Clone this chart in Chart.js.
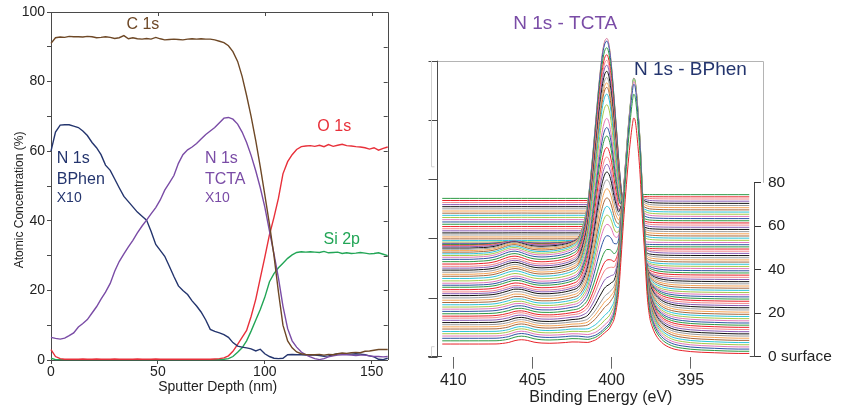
<!DOCTYPE html>
<html>
<head>
<meta charset="utf-8">
<script src="https://cdn.jsdelivr.net/npm/chart.js@4.4.1/dist/chart.umd.min.js"></script>
<style>
  html, body { margin: 0; padding: 0; background: #fff; }
  #wrap { position: relative; width: 851px; height: 410px; }
  #depth { position: absolute; left: 0; top: 0; }
  #xps { position: absolute; left: 420px; top: 0; }
</style>
</head>
<body>
<div id="wrap">
  <canvas id="depth" width="420" height="410"></canvas>
  <canvas id="xps" width="431" height="410"></canvas>
</div>
<script>
// depth profile (left panel) -------------------------------------------
const depth = [0,2.1,4.3,6.4,8.5,10.6,12.8,14.9,17.0,19.2,
  21.3,23.4,25.5,27.7,29.8,31.9,34.1,36.2,38.3,40.4,
  42.6,44.7,46.8,49.0,51.1,53.2,55.3,57.5,59.6,61.7,
  63.9,66.0,68.1,70.2,72.4,74.5,76.6,78.8,80.9,83.0,
  85.1,87.3,89.4,91.5,93.6,95.8,97.9,100.0,102.2,104.3,
  106.4,108.5,110.7,112.8,114.9,117.1,119.2,121.3,123.4,125.6,
  127.7,129.8,132.0,134.1,136.2,138.3,140.5,142.6,144.7,146.9,
  149.0,151.1,153.2,155.4,157.5];

const c1s = [91.0,92.6,92.8,92.7,93.0,92.9,92.9,92.8,93.0,92.9,
  92.6,92.7,92.9,92.7,92.4,92.6,93.2,92.3,92.6,92.3,
  92.2,92.4,92.2,92.7,92.3,92.0,92.1,92.2,92.1,92.0,
  92.2,92.3,92.2,92.3,92.2,92.2,92.0,91.6,91.2,90.3,
  88.6,85.8,81.5,76.0,70.0,63.0,55.5,47.5,39.0,30.0,
  19.5,10.0,5.5,3.5,2.3,1.8,1.6,1.5,1.5,1.6,
  1.4,1.6,1.5,1.8,2.0,1.9,2.1,2.2,2.1,2.5,
  2.6,2.8,3.0,3.0,3.0];

const o1s = [3.0,1.0,0.4,0.2,0.2,0.2,0.2,0.3,0.2,0.2,
  0.3,0.2,0.2,0.2,0.3,0.2,0.2,0.2,0.2,0.3,
  0.2,0.2,0.2,0.3,0.2,0.2,0.2,0.2,0.2,0.2,
  0.2,0.2,0.2,0.2,0.2,0.2,0.3,0.4,0.6,1.2,
  2.5,4.5,6.5,8.5,12.5,17.5,23.5,29.5,36.0,41.0,
  46.5,53.5,57.0,59.0,60.5,61.3,61.5,61.6,61.4,61.7,
  61.3,61.9,61.4,61.7,62.0,61.6,61.5,61.3,61.2,61.0,
  60.6,61.0,60.3,60.8,61.2];

const si2p = [0.5,0.1,0.1,0.1,0.1,0.1,0.1,0.1,0.1,0.1,
  0.1,0.1,0.1,0.1,0.1,0.1,0.1,0.1,0.1,0.1,
  0.1,0.1,0.1,0.1,0.1,0.1,0.1,0.1,0.1,0.1,
  0.1,0.1,0.1,0.1,0.1,0.1,0.1,0.1,0.2,0.4,
  1.0,2.2,3.5,5.5,8.3,11.5,14.5,18.0,22.5,24.8,
  26.5,27.8,29.2,30.2,30.9,31.1,31.0,31.1,31.0,30.9,
  31.2,30.8,30.9,31.0,30.6,30.8,30.6,30.7,30.9,30.7,
  30.5,30.6,30.8,30.4,30.0];

// N 1s traces are plotted x10
const nBPhen = [60.0,65.5,67.5,67.6,67.6,67.2,66.8,65.8,64.5,62.5,
  61.0,59.0,56.0,54.5,52.0,49.5,47.0,45.5,44.0,42.5,
  41.3,40.2,37.0,33.2,31.5,29.8,27.0,24.0,21.3,20.0,
  18.8,17.0,15.5,13.8,11.5,8.8,8.2,7.8,7.3,6.5,
  5.0,4.0,3.7,3.5,3.2,2.6,3.1,1.8,1.0,0.5,
  0.4,0.5,1.5,1.6,1.5,1.5,1.4,1.4,1.4,1.3,
  1.1,1.2,1.5,1.8,1.8,1.7,1.7,1.8,1.7,1.5,
  1.2,0.9,0.2,0.1,0.5];

const nTCTA = [6.5,6.2,6.0,6.3,7.0,7.8,9.5,10.5,11.6,13.5,
  15.3,17.5,19.5,22.0,25.5,28.3,30.5,32.5,34.4,36.5,
  38.5,40.2,42.0,43.8,46.0,48.8,50.8,53.0,56.5,59.0,
  60.4,61.2,62.2,63.5,64.8,65.8,66.8,68.2,69.5,69.7,
  69.2,67.8,65.5,62.5,58.8,54.3,49.5,44.0,37.0,30.5,
  23.5,15.5,9.0,5.5,3.7,2.3,1.5,0.9,0.4,0.1,
  0.4,0.9,1.2,1.4,1.5,1.5,1.4,1.3,1.4,1.4,
  1.2,1.0,1.0,0.9,1.0];

// N 1s spectra (right panel) --------------------------------------------
const energy = [410.7,410.2,409.6,409.0,408.4,407.8,407.3,406.9,406.5,406.1,
  405.7,405.3,404.9,404.4,403.9,403.4,402.9,402.5,402.1,401.8,
  401.5,401.2,401.0,400.8,400.6,400.45,400.3,400.15,400.0,399.85,
  399.7,399.55,399.4,399.25,399.1,398.95,398.8,398.7,398.6,398.5,
  398.35,398.2,398.05,397.9,397.75,397.6,397.4,397.2,397.0,396.7,
  396.4,396.0,395.5,395.0,394.3,393.5,392.7,392.0,391.3];

// TCTA component, peak at 400.3 eV, shake-up near 406 eV
const shapeTCTA = [0,0,0,0,0.002,0.005,0.012,0.022,0.032,0.035,
  0.028,0.018,0.012,0.010,0.012,0.016,0.024,0.035,0.06,0.125,
  0.24,0.45,0.615,0.78,0.915,0.978,1.0,0.97,0.88,0.75,
  0.61,0.46,0.32,0.22,0.135,0.08,0.044,0.028,0.018,0.01,
  0.005,0.002,0,0,0,0,0,0,0,0,
  0,0,0,0,0,0,0,0,0];

// BPhen component, peak at 398.6 eV
const shapeBPhen = [0,0,0,0,0,0,0,0.002,0.006,0.014,
  0.018,0.015,0.008,0.004,0.003,0.004,0.006,0.008,0.007,0.004,
  0,0,0,0.004,0.01,0.018,0.025,0.035,0.055,0.08,
  0.13,0.21,0.36,0.52,0.66,0.79,0.9,0.96,1.0,0.99,
  0.9,0.77,0.58,0.42,0.25,0.16,0.11,0.08,0.06,0.04,
  0.028,0.018,0.012,0.008,0.005,0.003,0.001,0,0];

// inelastic background steps under each peak
const stepTCTA = [1,1,1,1,1,1,1,1,1,1,
  1,1,1,1,1,1,1,1,1,0.99,
  0.97,0.92,0.86,0.78,0.68,0.6,0.5,0.4,0.32,0.24,
  0.17,0.11,0.07,0.04,0.02,0.01,0,0,0,0,
  0,0,0,0,0,0,0,0,0,0,
  0,0,0,0,0,0,0,0,0];

const stepBPhen = [1,1,1,1,1,1,1,1,1,1,
  1,1,1,1,1,1,1,1,1,1,
  1,1,1,1,1,1,1,1,1,1,
  1,1,0.97,0.92,0.85,0.76,0.65,0.58,0.5,0.42,
  0.31,0.21,0.13,0.07,0.04,0.02,0.01,0,0,0,
  0,0,0,0,0,0,0,0,0];

const baseline = [-0.3,-0.3,-0.3,-0.3,-0.3,-0.3,-0.3,-0.3,-0.3,-0.3,
  -0.3,-0.3,-0.3,-0.3,-0.3,-0.3,-0.3,-0.3,-0.3,-0.3,
  -0.3,-0.3,-0.2,-0.1,0.0,0.1,0.2,0.3,0.4,0.5,
  0.6,0.7,0.8,0.9,1.0,1.1,1.2,1.25,1.3,1.35,
  1.4,1.45,1.5,1.5,1.5,1.5,1.5,1.5,1.5,1.5,
  1.5,1.5,1.5,1.5,1.5,1.5,1.5,1.5,1.5];

const spectraCount = 74;      // one spectrum per sputter step, offset by 1 each
const ampBPhen = 1.76;        // peak height per % (x10 trace)
const ampTCTA = 1.58;
const tctaFloor = 4.5;        // TCTA trace sits ~4.5 above zero at the surface
const stepGain = 0.092;

const axisTicksRight = [0, 20, 40, 60, 80];
const intensityTicks = [0, 27.2, 54.4, 81.6, 108.8, 136.1];

const palette = ['#e8232a','#2e9a45','#2f55a4','#e376b8','#a6c94a','#2fc4d8',
  '#a8673d','#f6a454','#9b9b9b','#111111','#8a5bb5','#f4858a'];

const FONT = '"Liberation Sans", Arial, sans-serif';
const brown = '#6e4826', red = '#e8303a', green = '#22a556', navy = '#24356e', purple = '#7a4ca6';
const axisColor = '#4a4a4a';

// left panel ---------------------------------------------------------------
function series(arr) { return depth.map((d, i) => ({x: d, y: arr[i]})); }

const depthLabels = [
  {text: 'C 1s', x: 43, y: 96.3, color: brown, size: 16, align: 'center'},
  {text: 'O 1s', x: 132.5, y: 67.0, color: red, size: 16, align: 'center'},
  {text: 'Si 2p', x: 136, y: 34.5, color: green, size: 16, align: 'center'},
  {text: 'N 1s', x: 2.7, y: 58.0, color: navy, size: 16, align: 'left'},
  {text: 'BPhen', x: 2.7, y: 51.7, color: navy, size: 16, align: 'left'},
  {text: 'X10', x: 2.7, y: 46.5, color: navy, size: 14, align: 'left'},
  {text: 'N 1s', x: 72, y: 58.0, color: purple, size: 16, align: 'left'},
  {text: 'TCTA', x: 72, y: 51.7, color: purple, size: 16, align: 'left'},
  {text: 'X10', x: 72, y: 46.5, color: purple, size: 14, align: 'left'}
];

const depthDecor = {
  id: 'depthDecor',
  afterDraw(chart) {
    const {ctx, chartArea: a, scales: {x, y}} = chart;
    ctx.save();
    ctx.strokeStyle = axisColor;
    ctx.lineWidth = 1;
    ctx.beginPath();
    ctx.moveTo(a.left, Math.round(a.top) + 0.5);
    ctx.lineTo(Math.round(a.right) + 0.5, Math.round(a.top) + 0.5);
    ctx.lineTo(Math.round(a.right) + 0.5, a.bottom);
    for (let v = 10; v < 100; v += 10) {
      const py = Math.round(y.getPixelForValue(v)) + 0.5;
      ctx.moveTo(a.right, py); ctx.lineTo(a.right - 4, py);
    }
    for (const v of [50, 100, 150]) {
      const px = Math.round(x.getPixelForValue(v)) + 0.5;
      ctx.moveTo(px, a.top); ctx.lineTo(px, a.top + 4);
    }
    ctx.stroke();

    ctx.textBaseline = 'middle';
    for (const l of depthLabels) {
      ctx.font = l.size + 'px ' + FONT;
      ctx.fillStyle = l.color;
      ctx.textAlign = l.align;
      ctx.fillText(l.text, x.getPixelForValue(l.x), y.getPixelForValue(l.y));
    }

    ctx.fillStyle = '#222';
    ctx.font = '14px ' + FONT;
    ctx.textAlign = 'center';
    ctx.fillText('Sputter Depth (nm)', x.getPixelForValue(78), a.bottom + 27);
    ctx.font = '12px ' + FONT;
    ctx.translate(20, y.getPixelForValue(46));
    ctx.rotate(-Math.PI / 2);
    ctx.fillText('Atomic Concentration (%)', 0, 0);
    ctx.restore();
  }
};

new Chart(document.getElementById('depth'), {
  type: 'line',
  data: {
    datasets: [
      {label: 'C 1s', data: series(c1s), borderColor: brown},
      {label: 'N 1s TCTA', data: series(nTCTA), borderColor: purple},
      {label: 'N 1s BPhen', data: series(nBPhen), borderColor: navy},
      {label: 'O 1s', data: series(o1s), borderColor: red},
      {label: 'Si 2p', data: series(si2p), borderColor: green}
    ]
  },
  options: {
    responsive: false,
    animation: false,
    devicePixelRatio: 1,
    events: [],
    layout: {padding: {left: 0, top: 12, right: 32.3, bottom: 0}},
    elements: {
      line: {borderWidth: 1.4, tension: 0, fill: false},
      point: {radius: 0}
    },
    datasets: {line: {clip: 3}},
    plugins: {legend: {display: false}, tooltip: {enabled: false}},
    scales: {
      x: {
        type: 'linear', min: 0, max: 157.5,
        afterFit(s) { s.height = 50; },
        border: {color: axisColor},
        grid: {drawOnChartArea: false, color: axisColor, tickLength: 4},
        ticks: {stepSize: 50, includeBounds: false, maxRotation: 0, padding: 0,
          font: {family: FONT, size: 14}, color: '#222'}
      },
      y: {
        min: 0, max: 100,
        afterFit(s) { s.width = 51; },
        border: {color: axisColor},
        grid: {drawOnChartArea: false, color: axisColor, tickLength: 4},
        ticks: {stepSize: 10, padding: 2, font: {family: FONT, size: 14}, color: '#222',
          callback: v => (v % 20 === 0 ? v : '')}
      }
    }
  },
  plugins: [depthDecor]
});

// right panel --------------------------------------------------------------
function spectrum(k) {
  const b = nBPhen[k];
  const t = Math.max(nTCTA[k] - tctaFloor, 0);
  return energy.map((e, j) => ({
    x: e,
    y: k + baseline[j]
      + stepGain * (b * stepBPhen[j] + nTCTA[k] * stepTCTA[j])
      + ampBPhen * b * shapeBPhen[j]
      + ampTCTA * t * shapeTCTA[j]
  }));
}

const spectra = [];
for (let k = 0; k < spectraCount; k++) {
  spectra.push({
    label: 'step ' + k,
    data: spectrum(k),
    borderColor: palette[k % palette.length],
    backgroundColor: '#ffffff',
    fill: 'start'
  });
}

const xpsDecor = {
  id: 'xpsDecor',
  beforeDatasetsDraw(chart) {
    const {ctx, chartArea: a, scales: {x, y}} = chart;
    const xl = Math.round(x.getPixelForValue(411.0)) + 0.5;
    const yt = Math.round(y.getPixelForValue(136.1)) + 0.5;
    const xr = Math.round(a.right) + 9.5;
    ctx.save();
    ctx.strokeStyle = '#b4b4b4';
    ctx.lineWidth = 1;
    ctx.beginPath();
    ctx.moveTo(xl, yt); ctx.lineTo(xr, yt);
    ctx.lineTo(xr, y.getPixelForValue(80));
    ctx.stroke();
    ctx.restore();
  },
  afterDraw(chart) {
    const {ctx, chartArea: a, scales: {x, y}} = chart;
    const xl = Math.round(x.getPixelForValue(411.0)) + 0.5;
    const yt = y.getPixelForValue(136.1);
    const xa = Math.round(a.right) + 0.5;
    ctx.save();
    ctx.lineWidth = 1;
    // intensity axis on the left
    ctx.strokeStyle = axisColor;
    ctx.beginPath();
    ctx.moveTo(xl, yt); ctx.lineTo(xl, a.bottom);
    for (const v of intensityTicks) {
      const py = Math.round(y.getPixelForValue(v)) + 0.5;
      ctx.moveTo(xl - 9, py); ctx.lineTo(xl, py);
    }
    // right (depth) axis segment
    ctx.moveTo(xa, y.getPixelForValue(0)); ctx.lineTo(xa, y.getPixelForValue(80));
    ctx.stroke();
    // faint brackets left of the intensity axis
    ctx.strokeStyle = '#d2d2d2';
    ctx.beginPath();
    const xb = xl - 6;
    ctx.moveTo(xb, yt); ctx.lineTo(xb, y.getPixelForValue(87.3)); ctx.lineTo(xb + 3, y.getPixelForValue(87.3));
    ctx.moveTo(xb + 3, y.getPixelForValue(4.6)); ctx.lineTo(xb, y.getPixelForValue(4.6)); ctx.lineTo(xb, a.bottom);
    ctx.stroke();

    ctx.textBaseline = 'middle';
    ctx.textAlign = 'center';
    ctx.font = '19px ' + FONT;
    ctx.fillStyle = purple;
    ctx.fillText('N 1s - TCTA', x.getPixelForValue(402.93), y.getPixelForValue(153.3));
    ctx.fillStyle = navy;
    ctx.fillText('N 1s - BPhen', x.getPixelForValue(395.02), y.getPixelForValue(131.8));
    ctx.font = '16px ' + FONT;
    ctx.fillStyle = '#222';
    ctx.fillText('Binding Energy (eV)', x.getPixelForValue(400.68), a.bottom + 41);
    ctx.restore();
  }
};

new Chart(document.getElementById('xps'), {
  type: 'line',
  data: {datasets: spectra},
  options: {
    responsive: false,
    animation: false,
    devicePixelRatio: 1,
    events: [],
    layout: {padding: {left: 8, top: 30.45, right: 0, bottom: 0}},
    elements: {
      line: {borderWidth: 1, cubicInterpolationMode: 'monotone'},
      point: {radius: 0}
    },
    datasets: {line: {clip: false}},
    plugins: {legend: {display: false}, tooltip: {enabled: false}},
    scales: {
      x: {
        type: 'linear', reverse: true, min: 391.0, max: 411.6, z: 1,
        afterFit(s) { s.height = 53.3; },
        border: {color: axisColor},
        grid: {drawOnChartArea: false, color: '#666', tickLength: 12},
        ticks: {stepSize: 5, includeBounds: false, maxRotation: 0, padding: 2,
          font: {family: FONT, size: 16}, color: '#222'}
      },
      y: {
        position: 'right', min: 0, max: 150,
        afterFit(s) { s.width = 97; },
        afterBuildTicks(s) { s.ticks = axisTicksRight.map(v => ({value: v})); },
        border: {display: false},
        grid: {drawOnChartArea: false, color: '#333', tickLength: 7},
        ticks: {padding: 7, font: {family: FONT, size: 15.5}, color: '#222',
          callback: v => (v === 0 ? '0 surface' : v)}
      }
    }
  },
  plugins: [xpsDecor]
});
</script>
</body>
</html>
